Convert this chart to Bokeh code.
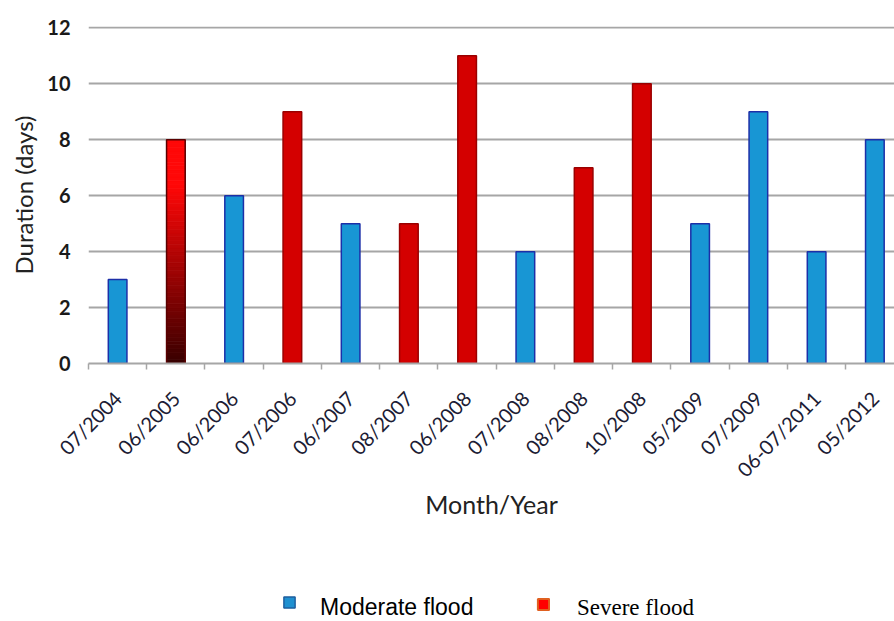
from bokeh.plotting import figure
from bokeh.layouts import column
from bokeh.models import Range1d, FixedTicker, Legend, LegendItem, ColumnDataSource
from bokeh.embed import file_html
from bokeh.resources import INLINE

# ---- data ----
months = ["07/2004", "06/2005", "06/2006", "07/2006", "06/2007", "08/2007", "06/2008",
          "07/2008", "08/2008", "10/2008", "05/2009", "07/2009", "06-07/2011", "05/2012"]
durations = [3, 8, 6, 9, 5, 5, 11, 4, 7, 10, 5, 9, 4, 8]
severity = ["Moderate", "Severe", "Moderate", "Severe", "Moderate", "Severe", "Severe",
            "Moderate", "Severe", "Severe", "Moderate", "Moderate", "Moderate", "Moderate"]
gradient_month = "06/2005"
y_ticks = [0, 2, 4, 6, 8, 10, 12]
legend_labels = ["Moderate flood", "Severe flood"]

# ---- styles ----
BLUE_FILL, BLUE_LINE = "#1896d4", "#1c2fa8"
RED_FILL, RED_LINE = "#d40000", "#9a0000"
GRID = "#a6a6a6"
BAR_W = 0.32
FONT = "Lato"

MAIN_H = 560
p = figure(width=894, height=MAIN_H, output_backend="svg", toolbar_location=None,
           x_range=Range1d(-0.5, 13.337), y_range=Range1d(0, 12.05),
           min_border_left=88, min_border_right=0, min_border_top=26,
           min_border_bottom=MAIN_H - 363)
p.outline_line_color = None
p.background_fill_color = "white"
p.border_fill_color = "white"

xs = list(range(len(months)))
mod = [i for i, s in enumerate(severity) if s == "Moderate"]
sev = [i for i, s in enumerate(severity) if s == "Severe" and months[i] != gradient_month]

src_mod = ColumnDataSource(dict(x=[xs[i] for i in mod], top=[durations[i] for i in mod]))
src_sev = ColumnDataSource(dict(x=[xs[i] for i in sev], top=[durations[i] for i in sev]))
p.vbar(x="x", top="top", bottom=0, width=BAR_W, source=src_mod,
       fill_color=BLUE_FILL, line_color=BLUE_LINE, line_width=1.5)
p.vbar(x="x", top="top", bottom=0, width=BAR_W, source=src_sev,
       fill_color=RED_FILL, line_color=RED_LINE, line_width=1.5)

# gradient bar (dark at bottom -> bright red at top)
gi = months.index(gradient_month)
gv = durations[gi]
N = 60
seg_b, seg_t, seg_c = [], [], []
for k in range(N):
    t = k / (N - 1)
    e = min(1.0, t / 0.8)
    r = int(0x3a + (0xff - 0x3a) * e)
    g = int(0x00 + 0x08 * e)
    seg_b.append(gv * k / N)
    seg_t.append(gv * (k + 1) / N)
    seg_c.append("#%02x%02x%02x" % (r, g, g))
src_g = ColumnDataSource(dict(x=[xs[gi]] * N, bottom=seg_b, top=seg_t, c=seg_c))
p.vbar(x="x", bottom="bottom", top="top", width=BAR_W, source=src_g,
       fill_color="c", line_color="c", line_width=0.8)
p.vbar(x=[xs[gi]], top=[gv], bottom=0, width=BAR_W, fill_color=None,
       line_color="#5a0000", line_width=1.5)

# ---- axes ----
p.xgrid.grid_line_color = None
p.ygrid.grid_line_color = GRID
p.ygrid.grid_line_width = 2
p.ygrid.ticker = FixedTicker(ticks=y_ticks)

xa = p.xaxis[0]
xa.ticker = FixedTicker(ticks=xs, minor_ticks=[i - 0.5 for i in range(len(months) + 1)])
xa.major_label_overrides = {float(i): m for i, m in enumerate(months)}
xa.major_label_orientation = 0.8
xa.major_tick_line_color = None
xa.major_tick_out = 0
xa.major_tick_in = 0
xa.minor_tick_line_color = GRID
xa.minor_tick_line_width = 1.5
xa.minor_tick_out = 6
xa.minor_tick_in = 0
xa.axis_line_color = GRID
xa.axis_line_width = 2
xa.major_label_standoff = 25
xa.major_label_text_font = FONT
xa.major_label_text_font_size = "20px"
xa.major_label_text_color = "#1c1c34"
xa.axis_label = "Month/Year"
xa.axis_label_text_font = FONT
xa.axis_label_text_font_size = "25px"
xa.axis_label_text_font_style = "normal"
xa.axis_label_text_color = "#222222"
xa.axis_label_standoff = -4

ya = p.yaxis[0]
ya.ticker = FixedTicker(ticks=y_ticks)
ya.axis_line_color = None
ya.major_tick_line_color = None
ya.minor_tick_line_color = None
ya.major_label_standoff = 12
ya.major_label_text_font = FONT
ya.major_label_text_font_style = "bold"
ya.major_label_text_font_size = "20px"
ya.major_label_text_color = "#1a1a1a"
ya.axis_label = "Duration (days)"
ya.axis_label_text_font = FONT
ya.axis_label_text_font_size = "24px"
ya.axis_label_text_font_style = "normal"
ya.axis_label_text_color = "#222222"
ya.axis_label_standoff = 6

# ---- legend strip ----
LEG_H = 621 - MAIN_H
lf = figure(width=894, height=LEG_H, output_backend="svg", toolbar_location=None,
            x_range=Range1d(0, 1), y_range=Range1d(0, 1),
            min_border_left=0, min_border_right=0, min_border_top=0, min_border_bottom=0,
            x_axis_location=None, y_axis_location=None)
lf.outline_line_color = None
lf.xgrid.visible = False
lf.ygrid.visible = False

nan = float("nan")
r_mod = lf.quad(left=[nan], right=[nan], top=[nan], bottom=[nan], fill_color="#1f90d0",
                line_color="#1f5f9f", line_width=1.5)
r_sev = lf.quad(left=[nan], right=[nan], top=[nan], bottom=[nan], fill_color="#ff0000",
                line_color="#e06020", line_width=2)
r_blank = lf.quad(left=[nan], right=[nan], top=[nan], bottom=[nan], fill_alpha=0, line_alpha=0)

COMMON = dict(padding=0, margin=0, spacing=0, border_line_color=None, background_fill_alpha=0)

def legend_glyph(rend, loc):
    # swatch only (marker of a legend entry)
    lg = Legend(items=[LegendItem(label=" ", renderers=[rend])], location=loc,
                label_text_font_size="1px", label_height=14, label_width=0,
                glyph_width=14, glyph_height=14, label_standoff=0, **COMMON)
    lf.add_layout(lg)

def legend_text(label, font, loc):
    lg = Legend(items=[LegendItem(label=label, renderers=[r_blank])], location=loc,
                label_text_font=font, label_text_font_size="23px", label_text_color="#000000",
                glyph_width=1, glyph_height=1, label_standoff=0, **COMMON)
    lf.add_layout(lg)

legend_glyph(r_mod, (194, 12))
legend_text(legend_labels[0], "Liberation Sans", (231, 0))
legend_glyph(r_sev, (448, 10))
legend_text(legend_labels[1], "Liberation Serif", (488, 0))

open("out.html", "w").write(file_html(column(p, lf, spacing=0), INLINE))
